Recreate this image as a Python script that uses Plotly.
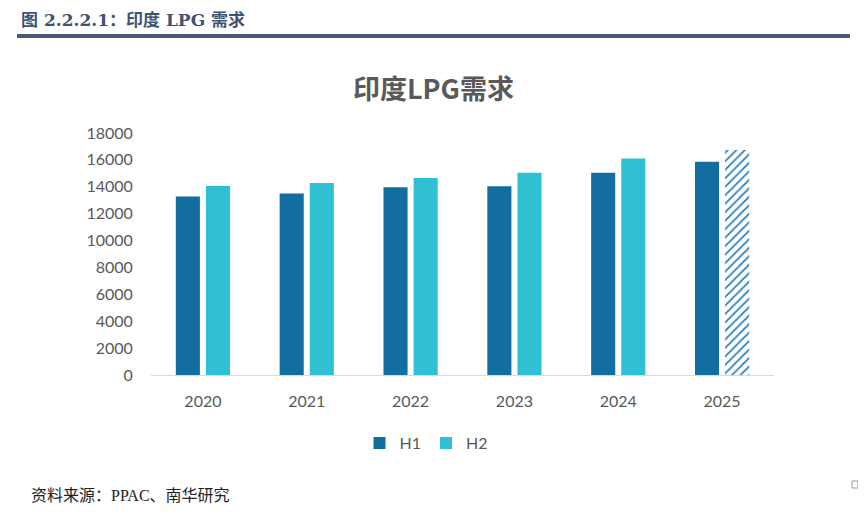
import plotly.graph_objects as go

years = ["2020", "2021", "2022", "2023", "2024", "2025"]
h1 = [13270, 13500, 13960, 14040, 15050, 15870]
h2 = [14050, 14280, 14660, 15050, 16100, 16740]
y_ticks = [0, 2000, 4000, 6000, 8000, 10000, 12000, 14000, 16000, 18000]

C_H1 = "#136EA0"
C_H2 = "#2FC0D3"
C_HATCH = "#2A7FC0"

# page body adds an 8px offset; work in page pixel coordinates
OFF = 8
W, H = 866 - OFF, 517 - OFF
L, R, T, B = 151 - OFF, 774 - OFF, 133 - OFF, 375 - OFF

def px(x):
    return (x - OFF - L) / (R - L)

def py(y):
    return (B - (y - OFF)) / (B - T)

fig = go.Figure()
fig.add_trace(go.Bar(
    name="H1", x=years, y=h1, offsetgroup="a",
    marker=dict(color=C_H1, line=dict(width=0)),
))
fig.add_trace(go.Bar(
    name="H2", x=years[:-1], y=h2[:-1], offsetgroup="b",
    marker=dict(color=C_H2, line=dict(width=0)),
))
fig.add_trace(go.Bar(
    name="H2E", x=years[-1:], y=h2[-1:], offsetgroup="b", showlegend=False,
    marker=dict(
        color="white",
        line=dict(width=0),
        pattern=dict(
            shape="/",
            fgcolor=C_HATCH,
            bgcolor="white",
            fgopacity=1,
            size=6,
            solidity=0.3,
            fillmode="replace",
        ),
    ),
))

fig.update_layout(
    width=W, height=H,
    margin=dict(l=L, r=W - R, t=T, b=H - B, pad=0, autoexpand=False),
    paper_bgcolor="white", plot_bgcolor="white",
    barmode="group", bargap=0.42, bargroupgap=0.2,
    font=dict(family="Lato, 'Noto Sans CJK SC', sans-serif", color="#595959", size=16),
    showlegend=True,
    legend=dict(
        orientation="h", xref="paper", yref="paper",
        x=px(426), y=py(443), xanchor="center", yanchor="middle",
        font=dict(size=16, color="#595959"),
        itemwidth=30, tracegroupgap=0,
    ),
    xaxis=dict(
        showgrid=False, showline=True, linecolor="#D9D9D9", linewidth=1,
        ticks="outside", ticklen=12, tickcolor="rgba(0,0,0,0)",
        tickfont=dict(size=16, color="#595959"), automargin=False,
        categoryorder="array", categoryarray=years,
    ),
    yaxis=dict(
        range=[0, 18000], tickvals=y_ticks, tickformat="d", showgrid=False, zeroline=False,
        showline=False, ticks="outside", ticklen=14, tickcolor="rgba(0,0,0,0)",
        tickfont=dict(size=16, color="#595959"), automargin=False,
    ),
)

fig.add_annotation(
    text="<b>印度LPG需求</b>", xref="paper", yref="paper",
    x=px(433), y=py(87), xanchor="center", yanchor="middle", showarrow=False,
    font=dict(family="'Noto Sans CJK SC', sans-serif", size=27, color="#595959"),
)
fig.add_annotation(
    text="<b>图 2.2.2.1：印度 LPG 需求</b>", xref="paper", yref="paper",
    x=px(19), y=py(20), xanchor="left", yanchor="middle", showarrow=False,
    font=dict(family="'DejaVu Serif', 'Noto Sans CJK SC', serif", size=17, color="#3E5373"),
)
fig.add_annotation(
    text="资料来源：PPAC、南华研究", xref="paper", yref="paper",
    x=px(29), y=py(495), xanchor="left", yanchor="middle", showarrow=False,
    font=dict(family="'Liberation Serif', 'Noto Sans CJK SC', serif", size=16, color="#222222"),
)
fig.add_shape(
    type="line", xref="paper", yref="paper",
    x0=px(17), x1=px(850), y0=py(36), y1=py(36),
    line=dict(color="#45597A", width=4),
)
fig.add_shape(
    type="rect", xref="paper", yref="paper",
    x0=px(852), x1=px(858), y0=py(481), y1=py(488),
    line=dict(color="#9A9A9A", width=1), fillcolor="white",
)

fig.write_html("out.html")
